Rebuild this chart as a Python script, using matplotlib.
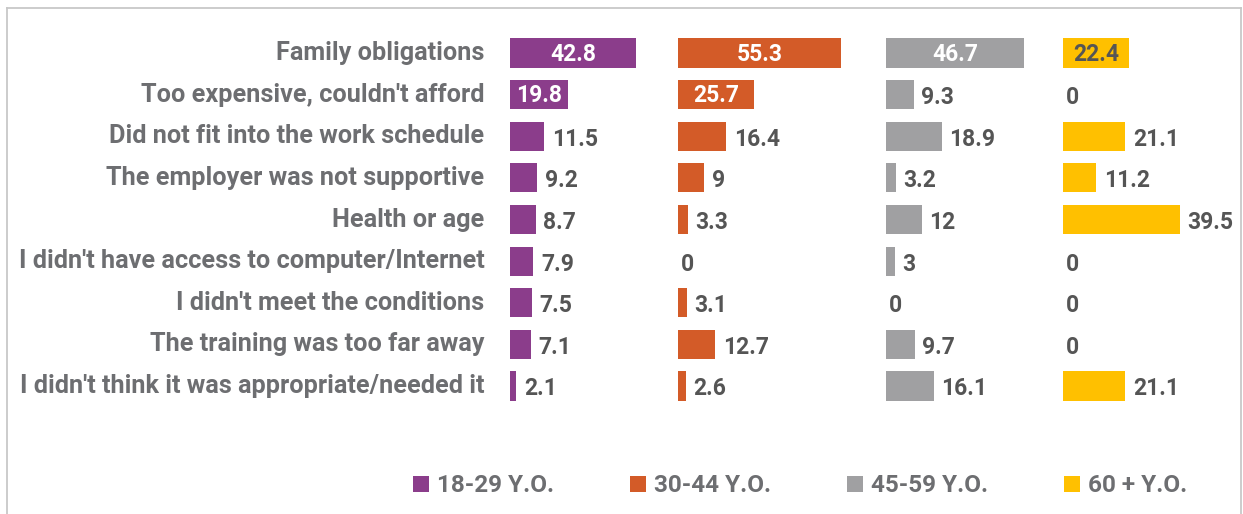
import matplotlib
matplotlib.use("Agg")
import matplotlib.pyplot as plt
from matplotlib.lines import Line2D
from matplotlib.patches import Patch

plt.rcParams['font.family'] = ['Roboto', 'DejaVu Sans']
plt.rcParams['font.weight'] = 'bold'

categories = [
    "Family obligations",
    "Too expensive, couldn't afford",
    "Did not fit into the work schedule",
    "The employer was not supportive",
    "Health or age",
    "I didn't have access to computer/Internet",
    "I didn't meet the conditions",
    "The training was too far away",
    "I didn't think it was appropriate/needed it",
]
age_groups = ["18-29 Y.O.", "30-44 Y.O.", "45-59 Y.O.", "60 + Y.O."]
vals_18_29 = [42.8, 19.8, 11.5, 9.2, 8.7, 7.9, 7.5, 7.1, 2.1]
vals_30_44 = [55.3, 25.7, 16.4, 9, 3.3, 0, 3.1, 12.7, 2.6]
vals_45_59 = [46.7, 9.3, 18.9, 3.2, 12, 3, 0, 9.7, 16.1]
vals_60_plus = [22.4, 0, 21.1, 11.2, 39.5, 0, 0, 0, 21.1]
series = [vals_18_29, vals_30_44, vals_45_59, vals_60_plus]

colors = ["#8B3D8B", "#D35B28", "#A0A0A2", "#FFC000"]
inside_text = ["white", "white", "white", "#555555"]
label_gray = "#6D6E71"
value_gray = "#555555"

W, H = 1243, 514
fig = plt.figure(figsize=(W / 100, H / 100), dpi=100)

# axes placement in pixels
ax_left, ax_right = 510, 1230
ax_top, ax_bottom = 32.2, 406.8
ax = fig.add_axes([ax_left / W, 1 - ax_bottom / H,
                   (ax_right - ax_left) / W, (ax_bottom - ax_top) / H])
px_per_unit = 2.95
ax.set_xlim(0, (ax_right - ax_left) / px_per_unit)
ax.set_ylim(len(categories) - 0.5, -0.5)

# each age group gets its own panel, offset along x
panel_start = [0, 56.9, 127.5, 187.5]
ys = list(range(len(categories)))
value_size = 16.5

for i, (vals, col) in enumerate(zip(series, colors)):
    ax.barh(ys, vals, left=panel_start[i], height=0.7, color=col, label=age_groups[i])
    for y, v in zip(ys, vals):
        txt = f"{v:g}"
        if y < 2 and v > 15:
            ax.text(panel_start[i] + v / 2, y + 0.03, txt, ha="center", va="center",
                    fontsize=value_size, fontweight="bold", color=inside_text[i])
        else:
            off = 2.6 if v > 0 else 1.0
            ax.text(panel_start[i] + v + off, y + 0.07, txt, ha="left", va="center",
                    fontsize=value_size, fontweight="bold", color=value_gray)

ax.set_yticks(ys)
ax.set_yticklabels(categories, fontsize=18.2, fontweight="bold", color=label_gray,
                   va="center")
ax.tick_params(axis="y", length=0, pad=18.5)
ax.set_xticks([])
for s in ax.spines.values():
    s.set_visible(False)

handles = [Patch(facecolor=c, edgecolor="none") for c in colors]
fig.legend(handles, age_groups, loc="center", bbox_to_anchor=(800 / W, 1 - 486 / H),
           ncol=4, frameon=False,
           prop={"weight": "bold", "size": 17.5},
           handlelength=0.66, handleheight=0.66, handletextpad=0.33,
           columnspacing=3.12, labelcolor=label_gray)

# light frame around the chart (bottom edge runs off the canvas)
border = "#C8C8C8"
fig.add_artist(Line2D([7 / W, 1241 / W], [1 - 8 / H, 1 - 8 / H], color=border, lw=1.3))
fig.add_artist(Line2D([7 / W, 7 / W], [0, 1 - 8 / H], color=border, lw=1.3))
fig.add_artist(Line2D([1241 / W, 1241 / W], [0, 1 - 8 / H], color=border, lw=1.3))

fig.savefig("out.png", dpi=100, facecolor="white")
